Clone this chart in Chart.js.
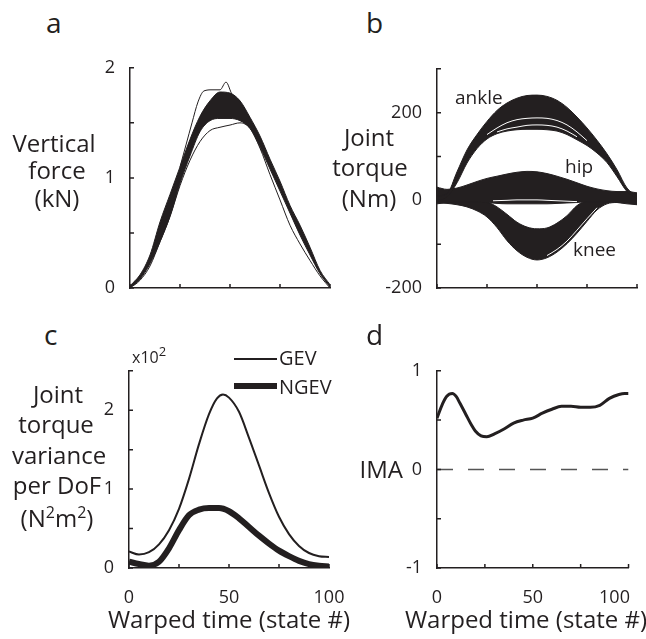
<!DOCTYPE html>
<html>
<head>
<meta charset="utf-8">
<title>Figure</title>
<script src="https://cdn.jsdelivr.net/npm/chart.js@4.4.1/dist/chart.umd.min.js"></script>
<style>
    html, body { margin: 0; padding: 0; background: #fff; overflow: hidden; }
    #fig { position: relative; width: 646px; height: 639px; font-family: 'Open Sans', sans-serif; color: #231f20; }
    .panel { position: absolute; }
    .txt { position: absolute; white-space: pre; line-height: 1; }
    .key { position: absolute; background: #231f20; }
    .sup { position: relative; top: -9px; font-size: 16px; }
    .sup-s { position: relative; top: -7px; font-size: 13px; }
</style>
</head>
<body>
<div id="fig">
    <div class="key" style="left:234px; top:358px; width:43px; height:2px;"></div>
    <div class="key" style="left:234px; top:383px; width:43px; height:6px;"></div>
</div>

<script>
const INK = '#231f20';

// warped time (state #)
const T = [0, 5, 10, 15, 20, 25, 30, 35, 40, 45, 50, 55, 60, 65, 70, 75, 80, 85, 90, 95, 100];

// a - vertical force (kN), band of trials + a few outlying trials
const forceUpper = [0.02, 0.12, 0.3, 0.6, 0.85, 1.1, 1.35, 1.56, 1.7, 1.78, 1.77, 1.7, 1.55, 1.38, 1.17, 0.97, 0.75, 0.57, 0.37, 0.16, 0.03];
const forceLower = [0, 0.08, 0.22, 0.42, 0.65, 0.95, 1.2, 1.42, 1.52, 1.54, 1.54, 1.52, 1.45, 1.28, 1.08, 0.88, 0.68, 0.48, 0.3, 0.13, 0.01];
const forceHighT = [25, 28, 31, 34, 37, 41, 45, 48, 51, 55];
const forceHigh = [1.1, 1.3, 1.5, 1.69, 1.79, 1.8, 1.8, 1.87, 1.76, 1.7];
const forceLow = [0, 0.07, 0.2, 0.42, 0.65, 0.93, 1.16, 1.33, 1.43, 1.46, 1.48, 1.5, 1.45, 1.27, 1.03, 0.8, 0.57, 0.4, 0.25, 0.11, 0];

// b - joint torque (Nm)
const ankleUpper = [10, 15, 65, 115, 150, 180, 205, 222, 233, 239, 240, 237, 228, 212, 190, 165, 137, 106, 70, 28, 10];
const ankleLower = [0, 8, 40, 85, 118, 140, 152, 158, 161, 162, 162, 161, 158, 150, 138, 125, 108, 86, 54, 20, 5];
const ankleGap1T = [25, 30, 35, 40, 45, 50, 55, 60, 65, 70, 75];
const ankleGap1 = [150, 165, 177, 184, 187, 188, 187, 182, 172, 156, 136];
const ankleGap2T = [30, 35, 40, 45, 50, 55, 60, 65, 70];
const ankleGap2 = [156, 163, 167, 171, 172, 171, 167, 158, 145];
const hipUpper = [30, 25, 28, 35, 43, 50, 55, 60, 64, 66, 65, 61, 55, 48, 40, 32, 26, 22, 20, 20, 17];
const hipLower = [-8, -5, -3, -3, -3, -5, -7, -8, -8, -8, -8, -8, -7, -6, -5, -3, -3, -3, -5, -8, -10];
const hipGapT = [28, 35, 40, 45, 50, 55, 60, 65, 70];
const hipGap = [-1, 0, 1, 1, 1, 0, -1, -2, -3];
const kneeUpper = [10, 5, 3, 0, -2, -4, -15, -32, -50, -61, -65, -63, -52, -35, -12, 0, 5, 8, 8, 8, 8];
const kneeLower = [-5, -7, -10, -15, -24, -38, -62, -92, -115, -130, -136, -131, -118, -99, -75, -48, -22, -8, -5, -5, -8];
const kneeGapT = [55, 60, 65, 70, 75, 80];
const kneeGap = [-126, -112, -93, -68, -42, -17];

// c - joint torque variance per DoF (x10^2 N^2m^2)
const gevT = [0, 5, 10, 15, 20, 25, 30, 35, 40, 44, 47, 50, 55, 60, 65, 70, 75, 80, 85, 90, 95, 100];
const gev = [0.21, 0.17, 0.2, 0.3, 0.48, 0.75, 1.13, 1.57, 1.95, 2.15, 2.2, 2.16, 1.98, 1.65, 1.3, 0.95, 0.65, 0.43, 0.28, 0.19, 0.15, 0.14];
const ngev = [0.08, 0.05, 0.03, 0.08, 0.25, 0.48, 0.67, 0.74, 0.76, 0.76, 0.72, 0.63, 0.52, 0.41, 0.31, 0.22, 0.15, 0.09, 0.05, 0.03, 0.02];

// d - IMA
const imaT = [0, 3, 5, 8, 10, 12, 15, 18, 20, 23, 26, 30, 35, 40, 45, 50, 55, 60, 65, 70, 75, 80, 85, 90, 95, 98, 100];
const ima = [0.52, 0.67, 0.74, 0.77, 0.74, 0.67, 0.56, 0.45, 0.39, 0.34, 0.33, 0.36, 0.41, 0.47, 0.5, 0.52, 0.57, 0.61, 0.64, 0.64, 0.63, 0.63, 0.65, 0.72, 0.76, 0.77, 0.77];
const zeroT = [0, 100];
const zeroY = [0, 0];

const fig = document.getElementById('fig');
const PAD = { l: 60, t: 14, r: 34, b: 44 };

// text placed by its baseline: top = baseline - 0.888 * size for Open Sans at line-height 1
function addText(html, x, baseline, size, align) {
    const el = document.createElement('div');
    el.className = 'txt';
    el.innerHTML = html;
    el.style.fontSize = size + 'px';
    el.style.top = (baseline - 0.888 * size) + 'px';
    if (align === 'center') {
        el.style.left = (x - 150) + 'px';
        el.style.width = '300px';
        el.style.textAlign = 'center';
    } else if (align === 'right') {
        el.style.left = (x - 300) + 'px';
        el.style.width = '300px';
        el.style.textAlign = 'right';
    } else {
        el.style.left = x + 'px';
    }
    fig.appendChild(el);
}

function line(xs, ys, opts) {
    return Object.assign({
        data: xs.map(function (x, i) { return { x: x, y: ys[i] }; }),
        borderColor: INK,
        backgroundColor: INK,
        borderWidth: 1,
        pointRadius: 0,
        fill: false,
        cubicInterpolationMode: 'monotone'
    }, opts || {});
}

const inwardTicks = {
    id: 'inwardTicks',
    afterDraw: function (chart) {
        const ctx = chart.ctx;
        const a = chart.chartArea;
        const x = chart.scales.x;
        const y = chart.scales.y;
        ctx.save();
        ctx.strokeStyle = INK;
        ctx.lineWidth = 1.5;
        ctx.beginPath();
        x.ticks.forEach(function (t) {
            const px = x.getPixelForValue(t.value);
            ctx.moveTo(px, a.bottom);
            ctx.lineTo(px, a.bottom - 4);
        });
        y.ticks.forEach(function (t) {
            const py = y.getPixelForValue(t.value);
            ctx.moveTo(a.left, py);
            ctx.lineTo(a.left + 4, py);
        });
        ctx.stroke();
        ctx.restore();
    }
};

function panel(area, datasets, yMin, yMax, yStep, yShown, xShown, xLabel) {
    const w = area.r - area.l + PAD.l + PAD.r;
    const h = area.b - area.t + PAD.t + PAD.b;
    const wrap = document.createElement('div');
    wrap.className = 'panel';
    wrap.style.left = (area.l - PAD.l) + 'px';
    wrap.style.top = (area.t - PAD.t) + 'px';
    wrap.style.width = w + 'px';
    wrap.style.height = h + 'px';
    const canvas = document.createElement('canvas');
    canvas.width = w;
    canvas.height = h;
    wrap.appendChild(canvas);
    fig.appendChild(wrap);

    const tickFont = { family: "'Open Sans', sans-serif", size: 18 };

    new Chart(canvas, {
        type: 'line',
        data: { datasets: datasets },
        options: {
            responsive: false,
            animation: false,
            events: [],
            layout: { padding: { left: 0, top: PAD.t, right: PAD.r, bottom: 0 } },
            plugins: { legend: { display: false }, tooltip: { enabled: false } },
            scales: {
                x: {
                    type: 'linear',
                    min: 0,
                    max: 100,
                    afterFit: function (s) { s.height = PAD.b; },
                    grid: { display: false },
                    border: { display: true, color: INK, width: 1.5 },
                    ticks: {
                        stepSize: 25,
                        autoSkip: false,
                        maxRotation: 0,
                        padding: 11,
                        color: INK,
                        font: tickFont,
                        callback: function (v) {
                            if (xShown.indexOf(v) < 0) return '';
                            return xLabel ? xLabel(v) : String(v);
                        }
                    }
                },
                y: {
                    type: 'linear',
                    min: yMin,
                    max: yMax,
                    afterFit: function (s) { s.width = PAD.l; },
                    grid: { display: false },
                    border: { display: true, color: INK, width: 1.5 },
                    ticks: {
                        stepSize: yStep,
                        autoSkip: false,
                        padding: 7,
                        color: INK,
                        font: tickFont,
                        callback: function (v) { return yShown.indexOf(v) < 0 ? '' : String(v); }
                    }
                }
            }
        },
        plugins: [inwardTicks]
    });
}

const WHITE = { borderColor: '#ffffff', borderWidth: 1 };

// a
panel({ l: 130, r: 330, t: 64, b: 288 }, [
    line(forceHighT, forceHigh),
    line(T, forceLow),
    line(T, forceUpper, { fill: '+1' }),
    line(T, forceLower)
], 0, 2, 0.5, [0, 1, 2], []);

// b
panel({ l: 437, r: 637, t: 65, b: 288 }, [
    line(ankleGap1T, ankleGap1, WHITE),
    line(ankleGap2T, ankleGap2, WHITE),
    line(hipGapT, hipGap, WHITE),
    line(kneeGapT, kneeGap, WHITE),
    line(T, ankleUpper, { fill: '+1' }),
    line(T, ankleLower),
    line(T, hipUpper, { fill: '+1' }),
    line(T, hipLower),
    line(T, kneeUpper, { fill: '+1' }),
    line(T, kneeLower)
], -200, 300, 100, [-200, 0, 200], []);

// c
panel({ l: 129, r: 329, t: 367, b: 568 }, [
    line(gevT, gev, { borderWidth: 2 }),
    line(T, ngev, { borderWidth: 6 })
], 0, 2.5, 0.5, [0, 1, 2], [0, 50, 100]);

// d
panel({ l: 437, r: 635, t: 367, b: 568 }, [
    line(imaT, ima, { borderWidth: 3 }),
    line(zeroT, zeroY, { borderColor: '#555555', borderWidth: 1.5, borderDash: [16, 15] })
], -1, 1, 0.5, [-1, 0, 1], [0, 50, 100], function (v) { return v === 100 ? '100      ' : String(v); });

// panel letters
addText('a', 46, 33, 28);
addText('b', 366, 33, 28);
addText('c', 44, 345, 28);
addText('d', 366, 345, 28);

// axis titles
addText('Vertical', 54, 152, 24, 'center');
addText('force', 57, 179, 24, 'center');
addText('(kN)', 57, 207, 24, 'center');

addText('Joint', 369, 146, 24, 'center');
addText('torque', 370, 176, 24, 'center');
addText('(Nm)', 369, 207, 24, 'center');

addText('Joint', 58, 403, 24, 'center');
addText('torque', 56, 433, 24, 'center');
addText('variance', 59, 464, 24, 'center');
addText('per DoF', 57, 494, 24, 'center');
addText('(N<span class="sup">2</span>m<span class="sup">2</span>)', 57, 527, 24, 'center');

addText('IMA', 403, 478, 24, 'right');

addText('Warped time (state #)', 229, 628, 24, 'center');
addText('Warped time (state #)', 526, 628, 24, 'center');

// band labels
addText('ankle', 455, 105, 19);
addText('hip', 565, 174, 19);
addText('knee', 573, 257, 19);

// multiplier and legend
addText('x10<span class="sup-s">2</span>', 132, 363, 16);
addText('GEV', 279, 366, 20);
addText('NGEV', 279, 395, 20);
</script>
</body>
</html>
